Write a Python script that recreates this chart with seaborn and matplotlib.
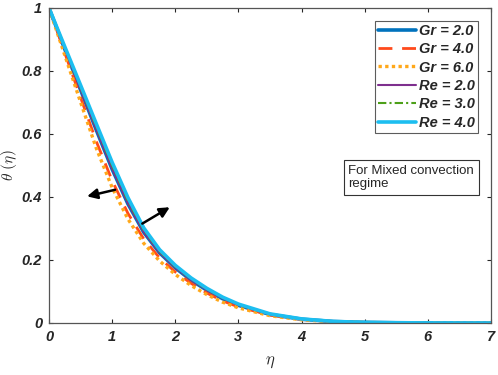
import numpy as np
import pandas as pd
import matplotlib
matplotlib.use("Agg")
import matplotlib.pyplot as plt
import seaborn as sns

# eta grid and temperature profiles
eta = [0, 0.25, 0.5, 0.75, 1.0, 1.25, 1.5, 1.75, 2.0, 2.25, 2.5, 2.75, 3.0, 3.5, 4.0, 4.5, 5.0, 5.5, 6.0, 6.5, 7.0]
gr_2 = [1.0, 0.869, 0.740, 0.612, 0.488, 0.378, 0.288, 0.223, 0.175, 0.136, 0.104, 0.077, 0.056, 0.027, 0.012, 0.0047, 0.0019, 0.0007, 0.0003, 0.0001, 0.0]
gr_4 = [1.0, 0.857, 0.716, 0.576, 0.452, 0.348, 0.267, 0.207, 0.162, 0.126, 0.095, 0.070, 0.051, 0.025, 0.011, 0.0043, 0.0017, 0.0007, 0.0002, 0.0001, 0.0]
gr_6 = [1.0, 0.850, 0.701, 0.554, 0.430, 0.330, 0.253, 0.197, 0.154, 0.119, 0.090, 0.066, 0.048, 0.023, 0.010, 0.004, 0.0015, 0.0006, 0.0002, 0.0001, 0.0]
re_2 = [1.0, 0.870, 0.741, 0.614, 0.490, 0.380, 0.289, 0.224, 0.176, 0.137, 0.105, 0.078, 0.057, 0.027, 0.012, 0.0047, 0.0019, 0.0007, 0.0003, 0.0001, 0.0]
re_3 = [1.0, 0.873, 0.748, 0.622, 0.500, 0.388, 0.295, 0.228, 0.179, 0.140, 0.107, 0.080, 0.058, 0.028, 0.0125, 0.0048, 0.0019, 0.0008, 0.0003, 0.0001, 0.0]
re_4 = [1.0, 0.877, 0.755, 0.632, 0.510, 0.398, 0.302, 0.233, 0.183, 0.143, 0.110, 0.082, 0.060, 0.029, 0.013, 0.005, 0.002, 0.0008, 0.0003, 0.0001, 0.0]

labels = ["Gr = 2.0", "Gr = 4.0", "Gr = 6.0", "Re = 2.0", "Re = 3.0", "Re = 4.0"]
series = [gr_2, gr_4, gr_6, re_2, re_3, re_4]
colors = ["#0072BD", "#FF4A1C", "#FFA81A", "#7E2F8E", "#4DA019", "#1CBEF0"]
styles = ["-", (0, (5, 3.5)), (0, (1, 1)), "-", (0, (4, 1.5, 1, 1.5)), "-"]
widths = [2.6, 2.0, 2.4, 1.5, 1.5, 2.6]

sns.set_style("ticks")
plt.rcParams['font.family'] = ['Liberation Sans', 'DejaVu Sans']
plt.rcParams['mathtext.fontset'] = 'cm'

fig = plt.figure(figsize=(4.98, 3.75), dpi=100)
ax = fig.add_axes([0.0984, 0.1387, 0.8876, 0.840])

for s, lab, c, ls, lw in zip(series, labels, colors, styles, widths):
    sns.lineplot(x=eta, y=s, ax=ax, color=c, linestyle=ls, linewidth=lw, label=lab)

# arrows
ax.annotate("", xy=(0.56, 0.40), xytext=(1.09, 0.425),
            arrowprops=dict(arrowstyle="-|>", color="black", lw=1.8, mutation_scale=15))
ax.annotate("", xy=(1.95, 0.372), xytext=(1.44, 0.311),
            arrowprops=dict(arrowstyle="-|>", color="black", lw=1.8, mutation_scale=15))

ax.text(4.74, 0.462, "For Mixed convection\nregime", fontsize=9.5, ha="left", va="center",
        linespacing=1.1,
        bbox=dict(boxstyle="square,pad=0.35", facecolor="white", edgecolor="#333333", linewidth=0.8))

ax.set_xlim(0, 7)
ax.set_ylim(0, 1)
ax.set_xticks(range(0, 8))
ax.set_yticks([0, 0.2, 0.4, 0.6, 0.8, 1])
ax.set_yticklabels(["0", "0.2", "0.4", "0.6", "0.8", "1"])
for t in ax.get_xticklabels() + ax.get_yticklabels():
    t.set_fontweight("bold")
    t.set_fontstyle("italic")
    t.set_fontsize(10.5)
ax.tick_params(direction="in", top=True, right=True, length=3, width=0.8, colors="#262626", pad=5)
for sp in ax.spines.values():
    sp.set_visible(True)
    sp.set_color("#555555")
    sp.set_linewidth(0.9)

ax.set_xlabel(r"$\eta$", fontsize=12, labelpad=8)
ax.set_ylabel(r"$\theta\ (\eta)$", fontsize=11, labelpad=2)

leg = ax.legend(loc="upper right", bbox_to_anchor=(0.9706, 0.959), frameon=True, fancybox=False,
                handlelength=2.6, handletextpad=0.2, labelspacing=0.3, borderpad=0.2,
                borderaxespad=0.0,
                prop={"weight": "bold", "style": "italic", "size": 10.5})
leg.get_frame().set_edgecolor("#333333")
leg.get_frame().set_linewidth(0.8)

fig.savefig("out.png", dpi=100)
